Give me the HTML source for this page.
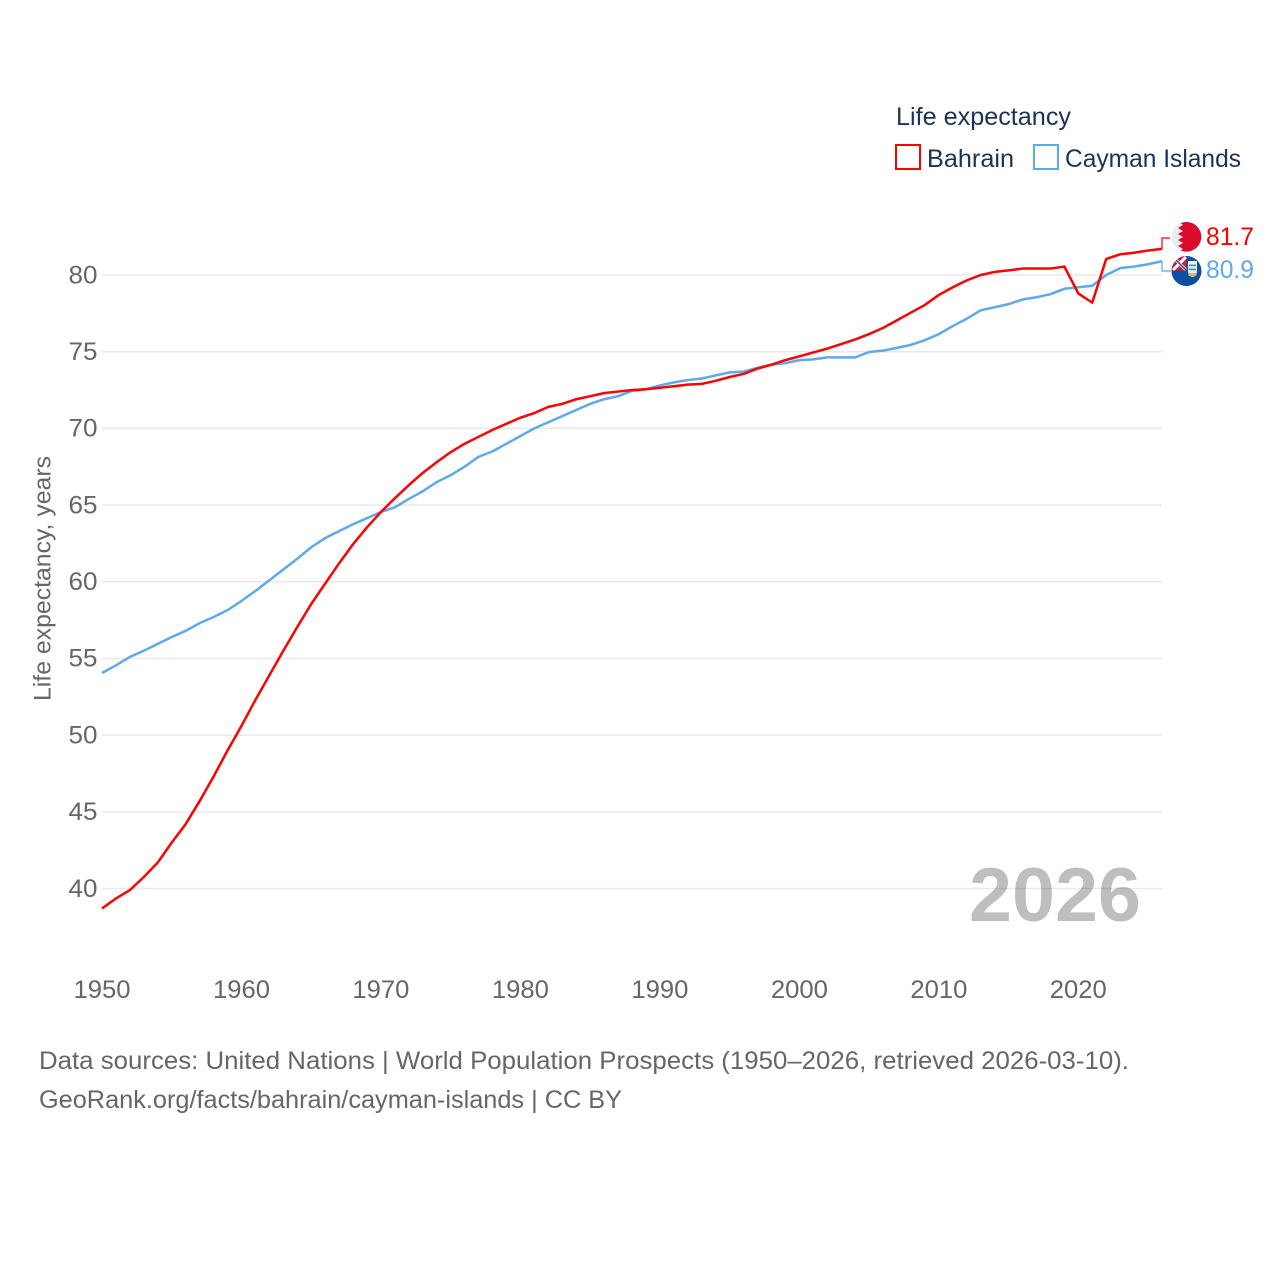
<!DOCTYPE html>
<html lang="en">
<head>
<meta charset="utf-8">
<title>Life expectancy: Bahrain and Cayman Islands</title>
<style>
html,body{margin:0;padding:0;background:#fff;width:1280px;height:1280px;overflow:hidden}
svg{display:block}
text{font-family:"Liberation Sans",sans-serif}
</style>
</head>
<body>
<svg id="chart" xmlns="http://www.w3.org/2000/svg" width="1280" height="1280" viewBox="0 0 1280 1280">
  <rect width="1280" height="1280" fill="#fff"/>
  <g id="grid"></g>
  <g id="yticks"></g>
  <g id="xticks"></g>
  <text transform="translate(50.5,701) rotate(-90)" font-size="24" fill="#666" textLength="245" lengthAdjust="spacingAndGlyphs">Life expectancy, years</text>
  <text x="969" y="921" font-size="76" font-weight="700" fill="#000" fill-opacity="0.255" textLength="172" lengthAdjust="spacingAndGlyphs">2026</text>
  <g id="series"></g>

  <g>
    <text x="896" y="125" font-size="25" fill="#1b3354" textLength="175" lengthAdjust="spacingAndGlyphs">Life expectancy</text>
    <g>
      <rect x="896" y="145" width="24" height="24" fill="#fff" stroke="#ff0000" stroke-width="2"/>
      <text x="927" y="167" font-size="25" fill="#1b3354" textLength="87" lengthAdjust="spacingAndGlyphs">Bahrain</text>
    </g>
    <g>
      <rect x="1034" y="145" width="24" height="24" fill="#fff" stroke="#5ea8ee" stroke-width="2"/>
      <text x="1065" y="167" font-size="25" fill="#1b3354" textLength="176" lengthAdjust="spacingAndGlyphs">Cayman Islands</text>
    </g>
  </g>

  <defs>
    <clipPath id="clipBh"><circle cx="1186.5" cy="236.8" r="14.8"/></clipPath>
    <clipPath id="clipKy"><circle cx="1186.5" cy="271" r="15"/></clipPath>
    <clipPath id="clipUj"><rect x="1171" y="256" width="15.500" height="14.500"/></clipPath>
  </defs>
  <g clip-path="url(#clipBh)">
    <rect x="1171" y="221" width="31" height="31" fill="#ececec"/>
    <polygon fill="#d90a2c" points="1178,221 1202,221 1202,252 1178,252 1183,249 1178,246 1183,243 1178,240 1183,237 1178,234 1183,231 1178,228 1183,225"/>
  </g>
  <g clip-path="url(#clipKy)">
    <rect x="1171" y="256" width="31" height="30" fill="#0b4ea2"/>
    <g clip-path="url(#clipUj)">
      <rect x="1171" y="256" width="15.500" height="14.500" fill="#c8253c"/>
      <path d="M1173,257 L1186,270 M1186,257 L1173,270" stroke="#fff" stroke-width="3" fill="none"/>
      <path d="M1173,257 L1186,270" stroke="#29408f" stroke-width="1.5" fill="none"/>
    </g>
    <path d="M1188,261 h9 v10 q0,5 -4.500,6 q-4.500,-1 -4.500,-6z" fill="#f1f1f1"/>
    <rect x="1188.500" y="273" width="8" height="3" fill="#e8b923"/>
    <rect x="1189" y="264.500" width="7" height="1.800" fill="#4d8fd0"/>
    <rect x="1189" y="268.500" width="7" height="1.800" fill="#4d8fd0"/>
  </g>
  <g id="endLabels"></g>

  <g>
    <text x="39" y="1069" font-size="25" fill="#666" textLength="1090" lengthAdjust="spacingAndGlyphs">Data sources: United Nations | World Population Prospects (1950–2026, retrieved 2026-03-10).</text>
    <text x="39" y="1108" font-size="25" fill="#666" textLength="583" lengthAdjust="spacingAndGlyphs">GeoRank.org/facts/bahrain/cayman-islands | CC BY</text>
  </g>
</svg>
<script>
const firstYear = 1950;
const yTickValues = [40, 45, 50, 55, 60, 65, 70, 75, 80];
const xTickYears = [1950, 1960, 1970, 1980, 1990, 2000, 2010, 2020];
const bahrainValues = [
  38.7,39.35,39.9,40.75,41.7,43.0,44.2,45.7,47.3,49.0,
  50.6,52.3,53.9,55.5,57.05,58.55,59.88,61.2,62.45,63.55,
  64.55,65.45,66.3,67.1,67.8,68.45,69.0,69.45,69.9,70.3,
  70.7,71.0,71.4,71.6,71.9,72.1,72.3,72.4,72.5,72.55,
  72.65,72.75,72.85,72.9,73.1,73.35,73.55,73.9,74.15,74.45,
  74.7,74.95,75.2,75.5,75.8,76.15,76.55,77.05,77.55,78.05,
  78.7,79.2,79.65,80.0,80.2,80.3,80.42,80.42,80.42,80.55,
  78.8,78.2,81.05,81.35,81.45,81.6,81.7
];
const caymanValues = [
  54.05,54.55,55.1,55.5,55.95,56.4,56.8,57.3,57.7,58.15,
  58.75,59.4,60.1,60.8,61.5,62.25,62.85,63.3,63.75,64.15,
  64.55,64.85,65.4,65.9,66.5,66.95,67.5,68.15,68.5,69.0,
  69.5,70.0,70.4,70.8,71.2,71.6,71.9,72.1,72.45,72.55,
  72.8,73.0,73.15,73.25,73.45,73.65,73.7,73.95,74.15,74.25,
  74.45,74.5,74.63,74.63,74.63,74.98,75.07,75.25,75.45,75.75,
  76.15,76.67,77.15,77.7,77.9,78.1,78.4,78.55,78.75,79.1,
  79.2,79.3,80.0,80.45,80.55,80.7,80.9
];

const SVG_NS = 'http://www.w3.org/2000/svg';
const xScale = year => 102 + (year - 1950) * (1060 / 76);
const yScale = value => 275 + (80 - value) * (613.5 / 40);
const RED = '#ff0000';
const BLUE = '#5ea8ee';

function make(tag, parent, attrs, content) {
  const el = document.createElementNS(SVG_NS, tag);
  for (const k in attrs) el.setAttribute(k, attrs[k]);
  if (content !== undefined) el.textContent = content;
  parent.appendChild(el);
  return el;
}

const gridG = document.getElementById('grid');
const yG = document.getElementById('yticks');
yTickValues.forEach(v => {
  const line = make('line', gridG, {x1: 102, x2: 1162, y1: yScale(v), y2: yScale(v), stroke: '#e9e9e9', 'stroke-width': 1.5});
  
  
  const label = make('text', yG, {x: 97.5, y: yScale(v) + 8.3, 'font-size': 25, fill: '#666', 'text-anchor': 'end', textLength: 29, lengthAdjust: 'spacingAndGlyphs'}, String(v));
  
  
});

const xG = document.getElementById('xticks');
xTickYears.forEach(y => {
  const label = make('text', xG, {x: xScale(y), y: 998, 'font-size': 25, fill: '#666', 'text-anchor': 'middle', textLength: 57, lengthAdjust: 'spacingAndGlyphs'}, String(y));
  
  
});

function pathFor(values) {
  return values.map((v, i) => (i ? 'L' : 'M') + xScale(firstYear + i).toFixed(2) + ',' + yScale(v).toFixed(2)).join(' ');
}

const seriesG = document.getElementById('series');
const caymanLine = make('path', seriesG, {d: pathFor(caymanValues), fill: 'none', stroke: BLUE, 'stroke-width': 2.5, 'stroke-linejoin': 'round'});


const bahrainLine = make('path', seriesG, {d: pathFor(bahrainValues), fill: 'none', stroke: RED, 'stroke-width': 2.5, 'stroke-linejoin': 'round'});



const endYear = firstYear + bahrainValues.length - 1;
const endX = xScale(endYear);
const bahrainEnd = bahrainValues[bahrainValues.length - 1];
const caymanEnd = caymanValues[caymanValues.length - 1];

const endG = document.getElementById('endLabels');
const bConn = make('path', endG, {d: 'M' + endX + ',' + yScale(bahrainEnd) + ' V238 H1170', fill: 'none', stroke: RED, 'stroke-width': 1.2});


const cConn = make('path', endG, {d: 'M' + endX + ',' + yScale(caymanEnd) + ' V271 H1171', fill: 'none', stroke: BLUE, 'stroke-width': 1.2});


const bLabel = make('text', endG, {x: 1206, y: 245, 'font-size': 25, fill: RED, textLength: 48, lengthAdjust: 'spacingAndGlyphs'}, bahrainEnd.toFixed(1));


const cLabel = make('text', endG, {x: 1206, y: 278, 'font-size': 25, fill: BLUE, textLength: 48, lengthAdjust: 'spacingAndGlyphs'}, caymanEnd.toFixed(1));


</script>
</body>
</html>
